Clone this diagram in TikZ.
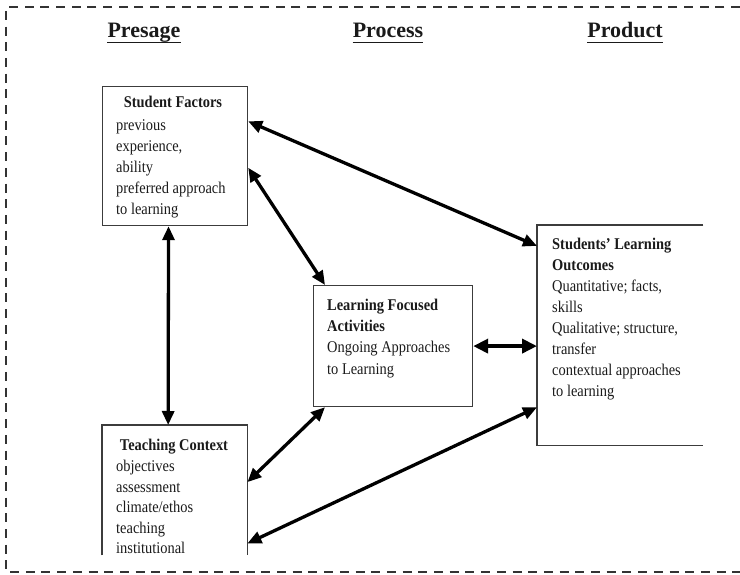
\documentclass[tikz,border=0pt]{standalone}
\usepackage{fontspec}
\setmainfont{Liberation Serif}[FakeStretch=0.88]
\newfontfamily\hdrfont{Liberation Serif}
\usetikzlibrary{arrows.meta,calc}
\definecolor{boxgray}{HTML}{3C3C3C}
\definecolor{txt}{HTML}{1A1A1A}
\definecolor{dashcol}{HTML}{333333}
\newcommand\bodyfont[1]{\fontsize{16.4}{#1}\selectfont}
\begin{document}
\begin{tikzpicture}[x=1pt,y=-1pt,
  box/.style={draw=boxgray,line width=1.2pt,inner sep=0pt,anchor=north west},
  openbox/.style={inner sep=0pt,anchor=north west},
  boxline/.style={draw=boxgray,line width=1.2pt},
  hdr/.style={font=\hdrfont\bfseries\fontsize{22}{26}\selectfont,inner sep=0pt,anchor=base,text=txt},
  ttl/.style={font=\bfseries\bodyfont{21},inner sep=0pt,anchor=base,text=txt},
  body/.style={inner sep=0pt,anchor=base west,align=flush left,text width=160pt,text=txt},
  link/.style={line width=3.3pt,{Triangle[length=14pt,width=12pt]}-{Triangle[length=14pt,width=12pt]}},
  biglink/.style={line width=4pt,{Triangle[length=15pt,width=14pt]}-{Triangle[length=15pt,width=14pt]}},
]
\useasboundingbox (0,0) rectangle (740,575);
% outer dashed frame
\draw[dashcol,line width=2pt,dash pattern=on 9pt off 6.7pt] (740,7) -- (6,7) -- (6,572) -- (740,572);

% headers
\node[hdr] (hpre) at (144,38) {Presage};
\node[hdr] (hpro) at (388,38) {Process};
\node[hdr] (hprd) at (625,38) {Product};
\foreach \h in {hpre,hpro,hprd}
  \draw[txt,line width=1.8pt] ($(\h.base west)+(0,4.5)$) -- ($(\h.base east)+(0,4.5)$);

% boxes
\node[box,minimum width=145pt,minimum height=139pt] (sf) at (102,86) {};
\node[openbox,minimum width=145pt,minimum height=130pt] (tc) at (102,425) {};
\draw[boxline] (tc.south west) -- (tc.north west) -- (tc.north east) -- (tc.south east);
\node[box,minimum width=159pt,minimum height=121pt] (lfa) at (313,285) {};
\node[openbox,minimum width=166pt,minimum height=220pt] (slo) at (537,225) {};
\draw[boxline] (slo.north east) -- (slo.north west) -- (slo.south west) -- (slo.south east);

% texts
\node[ttl] (sft) at (173,108) {Student Factors};
\node[body,font=\bodyfont{20.8}] (sfb) at (116,131) {previous\\experience,\\ability\\preferred approach\\to learning};
\node[ttl] (tct) at (174,450) {Teaching Context};
\node[body,font=\bodyfont{20.6}] (tcb) at (116,471.5) {objectives\\assessment\\climate/ethos\\teaching\\institutional};
\node[body,font=\bodyfont{21.5}] (lfat) at (327,310) {{\bfseries Learning Focused\\Activities}\\Ongoing Approaches\\to Learning};
\node[body,font=\bodyfont{20.9}] (slot) at (552,250) {{\bfseries Students’ Learning\\Outcomes}\\Quantitative; facts,\\skills\\Qualitative; structure,\\transfer\\contextual approaches\\to learning};

% connectors
\draw[link] ($(sf.north east)!0.252!(sf.south east)$) -- ($(slo.north west)!0.095!(slo.south west)$);
\draw[link] ($(sf.north east)!0.583!(sf.south east)$) -- ($(lfa.north west)!0.075!(lfa.north east)$);
\draw[link] ($(sf.south west)!0.455!(sf.south east)$) -- ($(tc.north west)!0.455!(tc.north east)$);
\draw[link] ($(lfa.south west)!0.075!(lfa.south east)$) -- ($(tc.north east)!0.438!(tc.south east)$);
\draw[link] ($(slo.north west)!0.827!(slo.south west)$) -- ($(tc.north east)!0.908!(tc.south east)$);
\draw[biglink] (lfa.east) -- (lfa.east -| slo.west);
\end{tikzpicture}
\end{document}
